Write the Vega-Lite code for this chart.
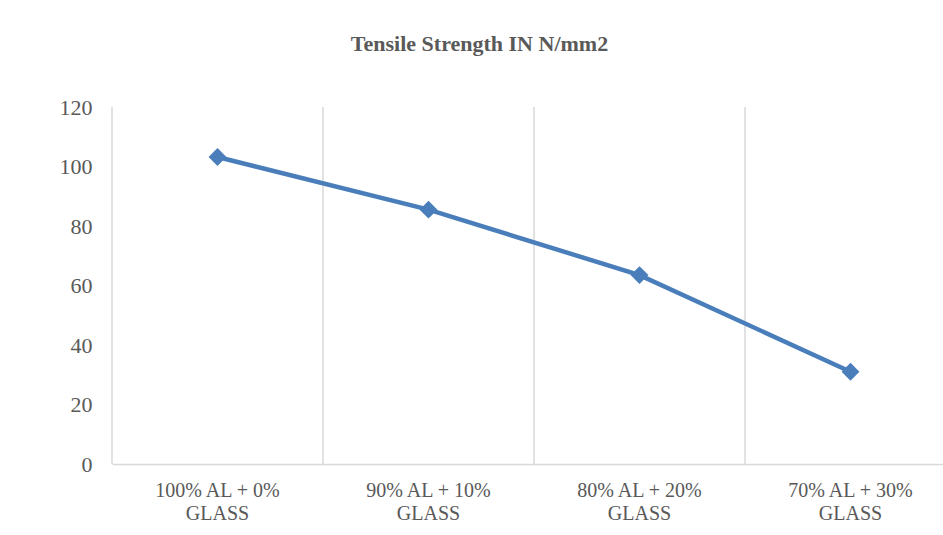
{
  "$schema": "https://vega.github.io/schema/vega-lite/v6.json",
  "autosize": {"type": "none"},
  "padding": {"left": 112, "top": 107, "right": 0, "bottom": 71},
  "width": 831,
  "height": 357,
  "background": "white",
  "title": {
    "text": "Tensile Strength IN N/mm2",
    "font": "Liberation Serif",
    "fontSize": 22,
    "fontWeight": "bold",
    "color": "#595959",
    "anchor": "middle",
    "frame": "group",
    "baseline": "alphabetic",
    "dx": -48,
    "offset": 23
  },
  "data": {
    "values": [
      {"mix": "100% AL + 0% GLASS", "strength": 103.2},
      {"mix": "90% AL + 10% GLASS", "strength": 85.5},
      {"mix": "80% AL + 20% GLASS", "strength": 63.5},
      {"mix": "70% AL + 30% GLASS", "strength": 31}
    ]
  },
  "layer": [
    {
      "mark": {"type": "rule", "color": "#d9d9d9", "strokeWidth": 1.5},
      "encoding": {
        "x": {
          "field": "mix", "type": "ordinal", "sort": null, "bandPosition": 0,
          "scale": {"type": "band", "paddingInner": 0, "paddingOuter": 0, "range": [0, 844]},
          "axis": {"title": null, "labelExpr": "[replace(datum.label, ' GLASS', ''), 'GLASS']"}
        }
      }
    },
    {
      "mark": {"type": "line", "color": "#4a7ebb", "strokeWidth": 4.5},
      "encoding": {
        "x": {
          "field": "mix", "type": "ordinal", "sort": null,
          "axis": {"title": null, "labelExpr": "[replace(datum.label, ' GLASS', ''), 'GLASS']"}
        },
        "y": {
          "field": "strength", "type": "quantitative",
          "scale": {"domain": [0, 120], "nice": false},
          "axis": {"title": null, "values": [0, 20, 40, 60, 80, 100, 120]}
        }
      }
    },
    {
      "mark": {"type": "point", "shape": "diamond", "filled": true, "color": "#4a7ebb", "size": 320, "opacity": 1},
      "encoding": {
        "x": {
          "field": "mix", "type": "ordinal", "sort": null,
          "axis": {"title": null, "labelExpr": "[replace(datum.label, ' GLASS', ''), 'GLASS']"}
        },
        "y": {
          "field": "strength", "type": "quantitative",
          "scale": {"domain": [0, 120], "nice": false},
          "axis": {"title": null, "values": [0, 20, 40, 60, 80, 100, 120]}
        }
      }
    }
  ],
  "config": {
    "view": {"stroke": null},
    "axisX": {
      "labelFont": "Liberation Serif",
      "labelFontSize": 20,
      "labelColor": "#595959",
      "labelLineHeight": 23,
      "labelPadding": 16,
      "labelAngle": 0,
      "labelBaseline": "top",
      "ticks": false,
      "grid": false,
      "domainColor": "#d9d9d9",
      "domainWidth": 1.5
    },
    "axisY": {
      "labelFont": "Liberation Serif",
      "labelFontSize": 22,
      "labelColor": "#595959",
      "labelPadding": 20,
      "ticks": false,
      "grid": false,
      "domain": false
    }
  }
}
